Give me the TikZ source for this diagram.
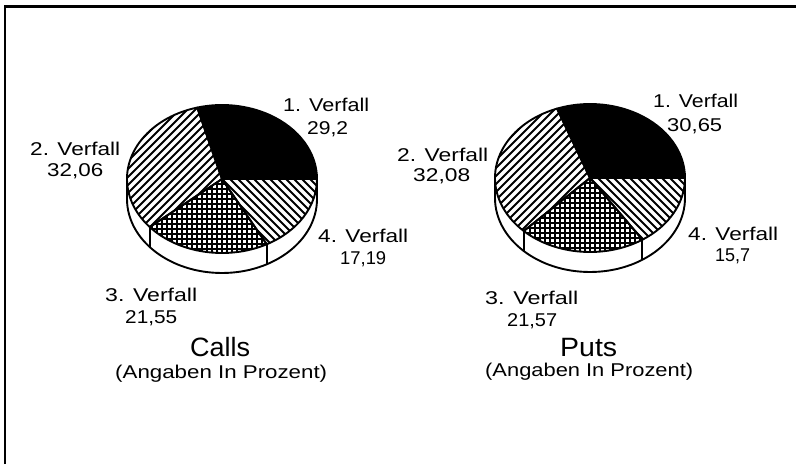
\documentclass[tikz,border=0pt]{standalone}
\usepackage{fontspec}
\setmainfont{Liberation Sans}
\usepackage{graphicx}
\usetikzlibrary{calc}
\newcommand\fitw[2]{\resizebox{#1pt}{\height}{#2}}
\tikzset{
  outline/.style={line width=1.9pt, line join=round},
  hatch/.style={line width=1.9pt},
  gridline/.style={line width=1.6pt},
  lbl/.style={anchor=base west, inner sep=0pt, font=\fontsize{18.5}{20}\selectfont},
  big/.style={anchor=base west, inner sep=0pt, font=\fontsize{26.5}{28}\selectfont},
}
% sector path: center cx,cy ; angles a,b
\newcommand\sect[4]{(#1,#2) -- ($(#1,#2)+(#3:95 and 74)$) arc[start angle=#3,end angle=#4,x radius=95,y radius=74] -- cycle}
\newcommand\drawpie[5]{%
  % side band
  \fill[white] (#1-95,#2) arc[start angle=180,end angle=360,x radius=95,y radius=74]
     -- ++(0,-20) arc[start angle=0,end angle=-180,x radius=95,y radius=74] -- cycle;
  \draw[outline] (#1-95,#2) -- ++(0,-20) arc[start angle=180,end angle=360,x radius=95,y radius=74] -- ++(0,20);
  \draw[outline] ($(#1,#2)+(#4:95 and 74)$) -- ++(0,-20);
  \draw[outline] ($(#1,#2)+(#5:95 and 74)$) -- ++(0,-20);
  % slice 1
  \fill[black] \sect{#1}{#2}{0}{#3};
  % slice 2
  \begin{scope}
    \clip \sect{#1}{#2}{#3}{#4};
    \foreach \k in {-256,-248,...,256} \draw[hatch] (#1+\k-100,#2-100) -- (#1+\k+100,#2+100);
  \end{scope}
  % slice 3
  \begin{scope}
    \clip \sect{#1}{#2}{#4}{#5};
    \foreach \k in {-100,-95,...,100} \draw[gridline] (#1+\k,#2-80) -- (#1+\k,#2+80);
    \foreach \k in {-80,-75,...,80} \draw[gridline] (#1-100,#2+\k) -- (#1+100,#2+\k);
  \end{scope}
  % slice 4
  \begin{scope}
    \clip \sect{#1}{#2}{#5}{360};
    \foreach \k in {-256,-248,...,256} \draw[hatch] (#1+\k-100,#2+100) -- (#1+\k+100,#2-100);
  \end{scope}
  \draw[outline] \sect{#1}{#2}{0}{#3};
  \draw[outline] \sect{#1}{#2}{#3}{#4};
  \draw[outline] \sect{#1}{#2}{#4}{#5};
  \draw[outline] \sect{#1}{#2}{#5}{360};
}
\begin{document}
\begin{tikzpicture}[x=1pt,y=1pt]
\useasboundingbox (0,0) rectangle (796,464);
% frame
\coordinate (fbl) at (5,0);
\coordinate (ftl) at (5,457.5);
\coordinate (ftr) at (796,457.5);
\draw[line width=2.6pt] (fbl) -- (ftl) -- (ftr);

% left pie (Calls)
\drawpie{222}{285}{105.1}{220.5}{298.1}
% right pie (Puts)
\drawpie{590}{286}{110.3}{225.8}{303.5}

% left labels
\node[lbl] (l1a) at (283,352) {\fitw{86}{1. Verfall}};
\node[lbl] (l1b) at (307,329) {\fitw{41}{29,2}};
\node[lbl] (l2a) at (30,308) {\fitw{90}{2. Verfall}};
\node[lbl] (l2b) at (47,287) {\fitw{56}{32,06}};
\node[lbl] (l4a) at (318,221) {\fitw{90}{4. Verfall}};
\node[lbl] (l4b) at (340,199) {\fitw{46}{17,19}};
\node[lbl] (l3a) at (105,162) {\fitw{92}{3. Verfall}};
\node[lbl] (l3b) at (125,140) {\fitw{52}{21,55}};
\node[big] (lt) at (190,107) {\fitw{60}{Calls}};
\node[lbl] (ls) at (115,85) {\fitw{212}{(Angaben In Prozent)}};

% right labels
\node[lbl] (r1a) at (653,356) {\fitw{85}{1. Verfall}};
\node[lbl] (r1b) at (667,332) {\fitw{55}{30,65}};
\node[lbl] (r2a) at (397,302) {\fitw{91}{2. Verfall}};
\node[lbl] (r2b) at (413,282) {\fitw{57}{32,08}};
\node[lbl] (r4a) at (688,223) {\fitw{90}{4. Verfall}};
\node[lbl] (r4b) at (715,202) {\fitw{35}{15,7}};
\node[lbl] (r3a) at (485,159) {\fitw{93}{3. Verfall}};
\node[lbl] (r3b) at (507,137) {\fitw{50}{21,57}};
\node[big] (rt) at (560,107) {\fitw{57}{Puts}};
\node[lbl] (rs) at (485,87) {\fitw{208}{(Angaben In Prozent)}};
\end{tikzpicture}
\end{document}
